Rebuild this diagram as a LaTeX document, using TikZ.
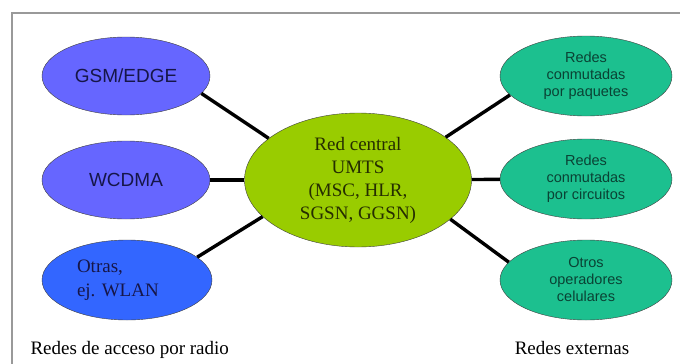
\documentclass[tikz,border=0pt]{standalone}
\usepackage{fontspec}
\setmainfont{Liberation Serif}
\setsansfont{Liberation Sans}
\usetikzlibrary{shapes.geometric}
\definecolor{radioblue}{HTML}{6666FF}
\definecolor{wlanblue}{HTML}{3366FF}
\definecolor{coregreen}{HTML}{99CC00}
\definecolor{extgreen}{HTML}{1CC08F}
\definecolor{bluetext}{HTML}{161648}
\definecolor{greentext}{HTML}{0A4234}
\definecolor{coretext}{HTML}{252D00}
\begin{document}
\begin{tikzpicture}
			[
				x                       = 1pt,
				y                       = -1pt,
				align					= center,
				radio/.style            = {ellipse, draw=black!75, fill=radioblue, text=bluetext,
				                           minimum width=168pt, minimum height=78pt, inner sep=0pt,
				                           font=\sffamily\fontsize{19}{22}\selectfont},
				external/.style         = {ellipse, draw=black!75, fill=extgreen, text=greentext,
				                           minimum width=172pt, minimum height=80pt, inner sep=0pt,
				                           font=\sffamily\fontsize{14.5}{17}\selectfont},
				link/.style             = {draw, line width=3.4pt}
			]
			\useasboundingbox (0,0) rectangle (680,364);
			\draw [black!40, line width=1.2pt] (12,364) |- (680,13);
			% red central
			\node [ellipse, draw=black!75, fill=coregreen, text=coretext, minimum width=227pt,
			       minimum height=134pt, inner sep=0pt, font=\fontsize{19}{23}\selectfont]
			      (core) at (358,180) {Red central\\UMTS\\(MSC, HLR,\\SGSN, GGSN)};
			% redes de acceso
			\node [radio] (gsm)   at (126,76)  {GSM/EDGE};
			\node [radio] (wcdma) at (126,180) {WCDMA};
			\node [radio, fill=wlanblue, minimum width=170pt, minimum height=80pt, align=left,
			       text width=100pt, font=\rmfamily\fontsize{19}{24}\selectfont]
			      (wlan)  at (127,280) {Otras,\\ej.\ WLAN};
			% redes externas
			\node [external] (paquetes)  at (586,76)  {Redes\\conmutadas\\por paquetes};
			\node [external] (circuitos) at (586,179) {Redes\\conmutadas\\por circuitos};
			\node [external] (celulares) at (586,280) {Otros\\operadores\\celulares};
			\draw [link] (gsm.-13)  -- (core.155);
			\draw [link] (wcdma)    -- (core);
			\draw [link] (wlan.18)  -- (core.201);
			\draw [link] (core.26)  -- (paquetes.194);
			\draw [link] (core)     -- (circuitos);
			\draw [link] (core.-23) -- (celulares.167);
			\node [anchor=base west, font=\fontsize{19}{23}\selectfont] (radiolbl) at (27,354) {Redes de acceso por radio};
			\node [anchor=base, font=\fontsize{19}{23}\selectfont] (extlbl) at (572,354) {Redes externas};
		\end{tikzpicture}
\end{document}
